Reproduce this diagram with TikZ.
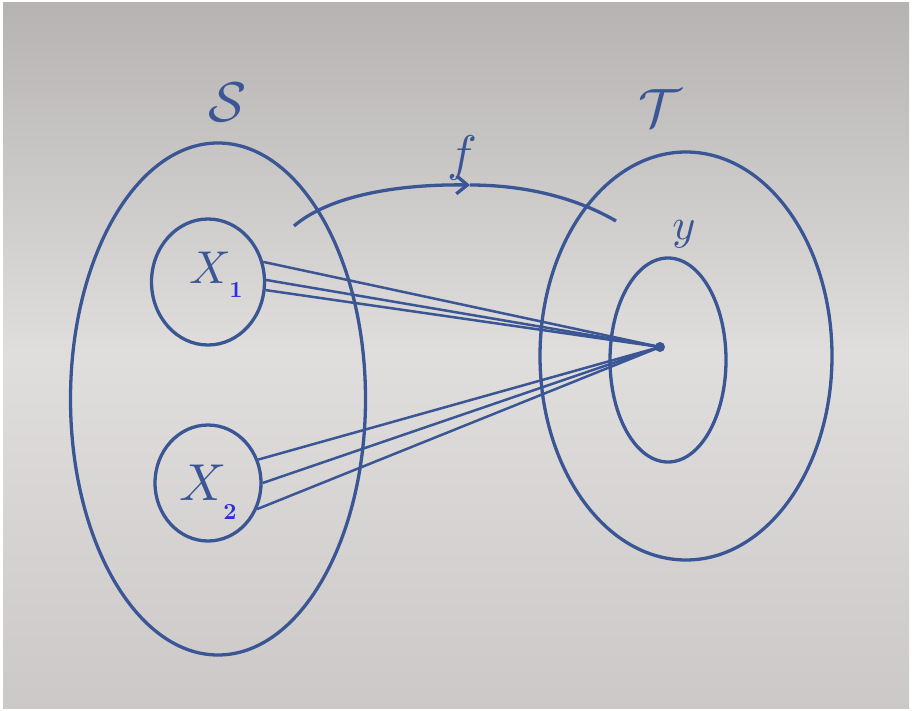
\documentclass[tikz,border=0pt]{standalone}
\usetikzlibrary{shapes.geometric,arrows.meta}
\definecolor{paper}{HTML}{D6D3D2}
\definecolor{ink}{HTML}{3A5694}
\definecolor{sub}{HTML}{3030D8}
\begin{document}
\begin{tikzpicture}[x=1pt,y=-1pt,
  pen/.style={draw=ink,line width=3.3pt},
  oval/.style={ellipse,pen,inner sep=0pt},
  thinpen/.style={draw=ink,line width=2.5pt},
  lbl/.style={text=ink,inner sep=0pt},
  subl/.style={text=sub,font=\bfseries,inner sep=0pt}]
\useasboundingbox (0,0) rectangle (912,711);
\fill[white] (0,0) rectangle (912,711);
\fill[top color=paper!85!black,bottom color=paper!95!black,middle color=paper!75!white] (3,3) rectangle (909,708);
% sets
\node[oval,minimum width=295pt,minimum height=512pt] (S) at (218,399) {};
\node[oval,minimum width=113pt,minimum height=126pt] (x1) at (208,282) {};
\node[oval,minimum width=106pt,minimum height=116pt] (x2) at (208,483) {};
\node[oval,minimum width=292pt,minimum height=408pt] (T) at (686,356) {};
\node[oval,minimum width=116pt,minimum height=204pt] (Y) at (668,360) {};
% labels
\node[lbl] (lS) at (228,102) {\scalebox{5.6}{$\mathcal{S}$}};
\node[lbl] (lT) at (660,108) {\scalebox{5.4}{$\mathcal{T}$}};
\node[lbl] (lf) at (462,158) {\scalebox{5}{$f$}};
\node[lbl] (ly) at (684,234) {\scalebox{4.4}{$y$}};
\node[lbl] (lx1) at (210,268) {\scalebox{4.6}{$X$}};
\node[subl] (s1) at (236,290) {\scalebox{2.3}{1}};
\node[lbl] (lx2) at (203,483) {\scalebox{5.2}{$X$}};
\node[subl] (s2) at (230,512) {\scalebox{2.3}{2}};
% map arrow f
\coordinate (fs) at (294,226);
\coordinate (fm) at (470,185);
\coordinate (fe) at (616,221);
\draw[pen,-{Straight Barb[length=11pt,width=18pt]}] (fs) .. controls (330,195) and (400,184) .. (fm);
\draw[pen] (fm) .. controls (530,185) and (580,200) .. (fe);
% point y
\coordinate (p) at (660,347);
\fill[ink] (p) circle (5pt);
\draw[thinpen] (x1.20) -- (p);
\draw[thinpen] (x1.2) -- (p);
\draw[thinpen] (x1.-8) -- (p);
\draw[thinpen] (x2.25) -- (p);
\draw[thinpen] (x2.0) -- (p);
\draw[thinpen] (x2.-28) -- (p);
\end{tikzpicture}
\end{document}
